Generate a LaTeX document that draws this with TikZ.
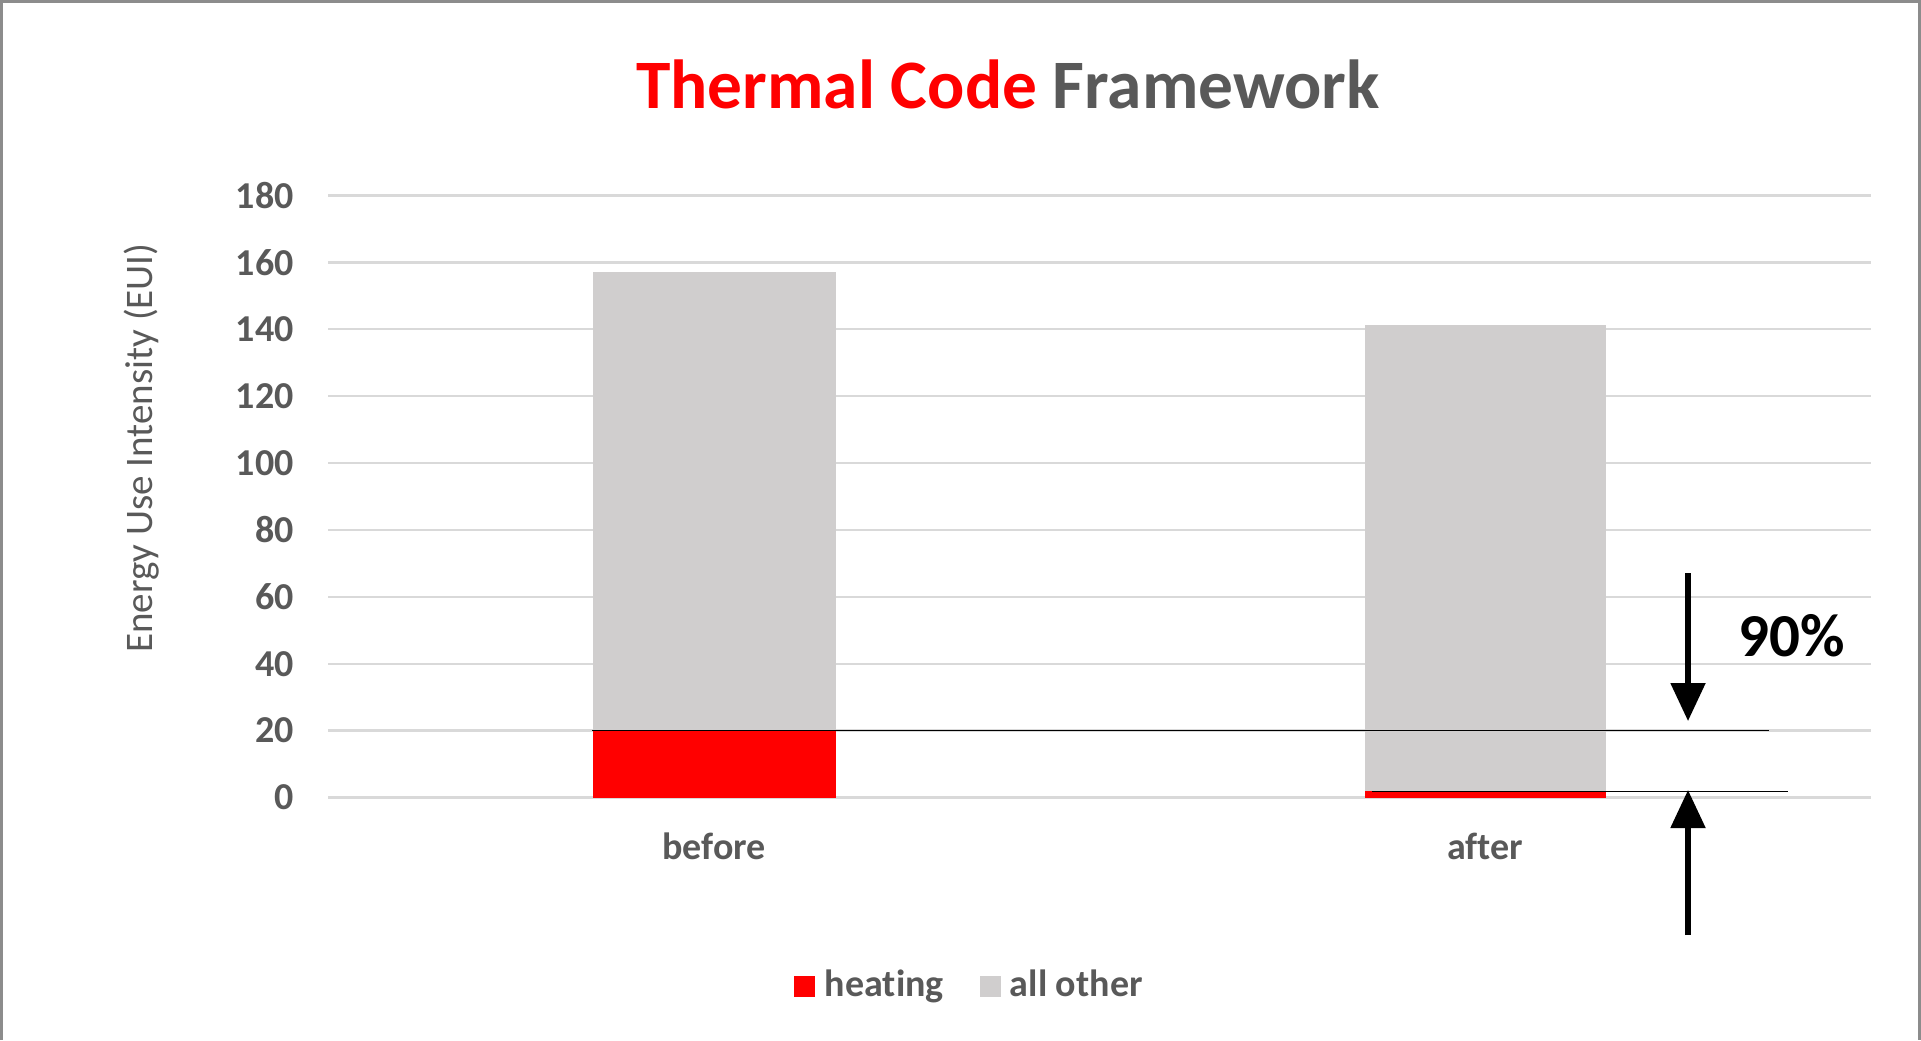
\documentclass[tikz,border=0pt]{standalone}
\usepackage{fontspec}
\setmainfont{Carlito}[Ligatures=NoCommon]
\usetikzlibrary{arrows.meta}
\definecolor{txtgray}{HTML}{595959}
\definecolor{gridgray}{HTML}{D9D9D9}
\definecolor{bargray}{HTML}{D0CECE}
\definecolor{heatred}{HTML}{FF0000}
\definecolor{framegray}{HTML}{8C8C8C}
% value-to-pixel mapping of the vertical axis
\newcommand{\vy}[1]{797.5-(#1)*3.345}
\tikzset{
  ticklabel/.style={anchor=east, text=txtgray, font=\fontsize{19pt}{22pt}\selectfont\bfseries, inner sep=0pt},
  catlabel/.style={text=txtgray, font=\fontsize{19pt}{22pt}\selectfont\bfseries, inner sep=0pt},
  legendtext/.style={anchor=base west, text=txtgray, font=\fontsize{19pt}{22pt}\selectfont\bfseries, inner sep=0pt},
  gridline/.style={draw=gridgray, line width=1.2pt},
  marker/.style={draw=black, line width=0.7pt},
  bigarrow/.style={draw=black, line width=2.6pt, -{Triangle[width=17pt,length=19pt]}},
}
\begin{document}
\begin{tikzpicture}[x=0.5pt,y=-0.5pt]
\useasboundingbox (0,0) rectangle (1921,1040);
\fill[white] (0,0) rectangle (1921,1040);
% frame
\draw[framegray, line width=1.3pt] (1.5,1040) -- (1.5,1.5) -- (1919.5,1.5) -- (1919.5,1040);

% title
\node[font=\fontsize{34.7pt}{40pt}\selectfont\bfseries, inner sep=0pt, anchor=base] (title) at (1008,108)
  {\textcolor{heatred}{Thermal Code} \textcolor{txtgray}{Framework}};

% horizontal grid and tick labels
\foreach \v in {0,20,...,180} {
  \draw[gridline] (328,{\vy{\v}}) -- (1871,{\vy{\v}});
  \node[ticklabel] (tick\v) at (294,{\vy{\v}}) {\v};
}

% axis title
\node[rotate=90, text=txtgray, font=\fontsize{19.5pt}{22pt}\selectfont, inner sep=0pt] (ylabel) at (142,448)
  {Energy Use Intensity (EUI)};

% stacked bars
\fill[heatred] (593,{\vy{0}}) rectangle (835.5,{\vy{20}});
\fill[bargray] (593,{\vy{20}}) rectangle (835.5,{\vy{157.2}});
\fill[heatred] (1365,{\vy{0}}) rectangle (1606,{\vy{1.8}});
\fill[bargray] (1365,{\vy{1.8}}) rectangle (1606,{\vy{141.4}});

% category labels
\node[catlabel] (before) at (714,846) {before};
\node[catlabel] (after) at (1485,846) {after};

% reference lines at the heating levels
\coordinate (l1a) at (592,{\vy{20}});
\coordinate (l1b) at (1769,{\vy{20}});
\coordinate (l2a) at (1372,{\vy{1.8}});
\coordinate (l2b) at (1788,{\vy{1.8}});
\draw[marker] (l1a) -- (l1b);
\draw[marker] (l2a) -- (l2b);

% reduction arrows
\coordinate (dtail) at (1688,573);
\coordinate (dtip) at (1688,721);
\coordinate (utail) at (1688,935);
\coordinate (utip) at (1688,790);
\draw[bigarrow] (dtail) -- (dtip);
\draw[bigarrow] (utail) -- (utip);
\node[font=\fontsize{30.5pt}{34pt}\selectfont\bfseries, inner sep=0pt] (pct) at (1792,636) {90\%};

% legend
\fill[heatred] (794,976) rectangle (815,997) coordinate (sqheat);
\node[legendtext] (lgheat) at (824.5,996) {heating};
\fill[bargray] (980,976) rectangle (1001,997) coordinate (sqother);
\node[legendtext] (lgother) at (1009.5,996) {all other};
\end{tikzpicture}
\end{document}
